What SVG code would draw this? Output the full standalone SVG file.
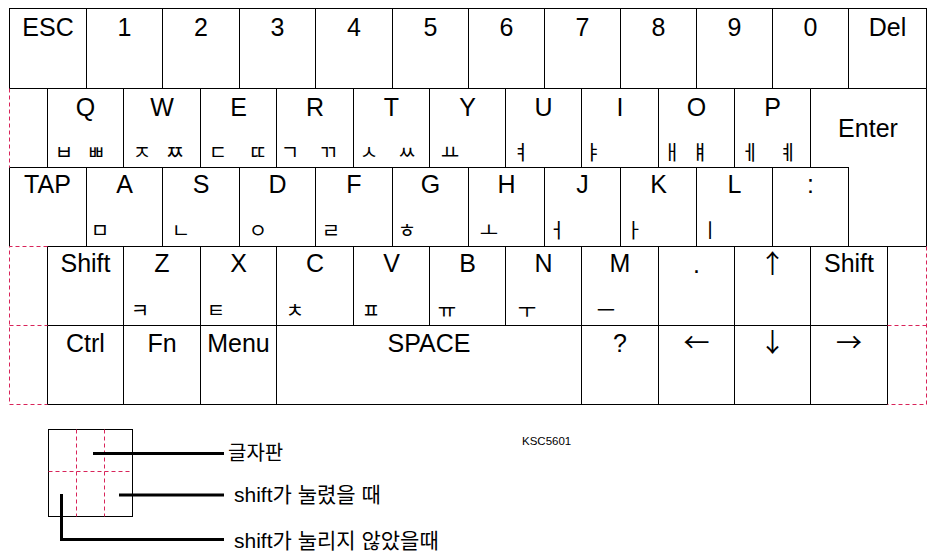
<svg xmlns="http://www.w3.org/2000/svg" width="937" height="559" viewBox="0 0 937 559">
<style>
.k{fill:#fff;stroke:#000;stroke-width:1}
.l{font-family:"Liberation Sans",Arial,sans-serif;font-size:25px;text-anchor:middle;fill:#000}
.a{font-family:"Noto Sans CJK KR","Noto Sans CJK SC",sans-serif;font-size:26px;text-anchor:middle;fill:#000}
.j{font-family:"Noto Sans CJK KR","Noto Sans CJK SC",sans-serif;font-size:20px;text-anchor:middle;fill:#000}
.d{stroke:#d8245a;stroke-width:1;stroke-dasharray:4 3;fill:none}
.c{stroke:#000;stroke-width:3;fill:none}
.t{font-family:"Liberation Sans","Noto Sans CJK KR",sans-serif;font-size:20px;fill:#000}
.t2{font-family:"Liberation Sans","Noto Sans CJK KR",sans-serif;font-size:21px;fill:#000}
.s{font-family:"Liberation Sans",Arial,sans-serif;font-size:11.5px;fill:#000}
</style>
<rect width="937" height="559" fill="#fff"/>
<!-- row 1 -->
<g id="key-esc"><rect class="k" x="9.5" y="8.5" width="77" height="80"/><text class="l" x="48" y="36">ESC</text></g>
<g id="key-1"><rect class="k" x="86.5" y="8.5" width="76" height="80"/><text class="l" x="124.5" y="36">1</text></g>
<g id="key-2"><rect class="k" x="162.5" y="8.5" width="77" height="80"/><text class="l" x="201" y="36">2</text></g>
<g id="key-3"><rect class="k" x="239.5" y="8.5" width="76" height="80"/><text class="l" x="277.5" y="36">3</text></g>
<g id="key-4"><rect class="k" x="315.5" y="8.5" width="77" height="80"/><text class="l" x="354" y="36">4</text></g>
<g id="key-5"><rect class="k" x="392.5" y="8.5" width="76" height="80"/><text class="l" x="430.5" y="36">5</text></g>
<g id="key-6"><rect class="k" x="468.5" y="8.5" width="76" height="80"/><text class="l" x="506.5" y="36">6</text></g>
<g id="key-7"><rect class="k" x="544.5" y="8.5" width="76" height="80"/><text class="l" x="582.5" y="36">7</text></g>
<g id="key-8"><rect class="k" x="620.5" y="8.5" width="76" height="80"/><text class="l" x="658.5" y="36">8</text></g>
<g id="key-9"><rect class="k" x="696.5" y="8.5" width="76" height="80"/><text class="l" x="734.5" y="36">9</text></g>
<g id="key-0"><rect class="k" x="772.5" y="8.5" width="76" height="80"/><text class="l" x="810.5" y="36">0</text></g>
<g id="key-del"><rect class="k" x="848.5" y="8.5" width="78" height="80"/><text class="l" x="887.5" y="36">Del</text></g>
<!-- row 2 -->
<g id="key-q"><rect class="k" x="47.5" y="88.5" width="76" height="79"/><text class="l" x="85.5" y="116">Q</text><text class="j" x="64" y="160">ㅂ</text><text class="j" x="96" y="160">ㅃ</text></g>
<g id="key-w"><rect class="k" x="123.5" y="88.5" width="77" height="79"/><text class="l" x="162" y="116">W</text><text class="j" x="142" y="160">ㅈ</text><text class="j" x="175" y="160">ㅉ</text></g>
<g id="key-e"><rect class="k" x="200.5" y="88.5" width="76" height="79"/><text class="l" x="238.5" y="116">E</text><text class="j" x="218" y="160">ㄷ</text><text class="j" x="258" y="160">ㄸ</text></g>
<g id="key-r"><rect class="k" x="276.5" y="88.5" width="77" height="79"/><text class="l" x="315" y="116">R</text><text class="j" x="290" y="160">ㄱ</text><text class="j" x="328" y="160">ㄲ</text></g>
<g id="key-t"><rect class="k" x="353.5" y="88.5" width="76" height="79"/><text class="l" x="391.5" y="116">T</text><text class="j" x="369" y="160">ㅅ</text><text class="j" x="407" y="160">ㅆ</text></g>
<g id="key-y"><rect class="k" x="429.5" y="88.5" width="76" height="79"/><text class="l" x="467.5" y="116">Y</text><text class="j" x="450" y="160">ㅛ</text></g>
<g id="key-u"><rect class="k" x="505.5" y="88.5" width="76" height="79"/><text class="l" x="543.5" y="116">U</text><text class="j" x="521" y="160">ㅕ</text></g>
<g id="key-i"><rect class="k" x="581.5" y="88.5" width="77" height="79"/><text class="l" x="620" y="116">I</text><text class="j" x="593" y="160">ㅑ</text></g>
<g id="key-o"><rect class="k" x="658.5" y="88.5" width="76" height="79"/><text class="l" x="696.5" y="116">O</text><text class="j" x="672" y="160">ㅐ</text><text class="j" x="700" y="160">ㅒ</text></g>
<g id="key-p"><rect class="k" x="734.5" y="88.5" width="76" height="79"/><text class="l" x="772.5" y="116">P</text><text class="j" x="750" y="160">ㅔ</text><text class="j" x="788" y="160">ㅖ</text></g>
<g id="key-enter"><path class="k" d="M810.5,88.5H926.5V246.5H848.5V167.5H810.5Z"/><text class="l" x="868" y="137">Enter</text></g>
<!-- row 3 -->
<g id="key-tap"><path class="k" d="M47.5,246.5H86.5V167.5H9.5V246.5"/><text class="l" x="47.5" y="193">TAP</text></g>
<g id="key-a"><rect class="k" x="86.5" y="167.5" width="76" height="79"/><text class="l" x="124.5" y="193">A</text><text class="j" x="100" y="238">ㅁ</text></g>
<g id="key-s"><rect class="k" x="162.5" y="167.5" width="77" height="79"/><text class="l" x="201" y="193">S</text><text class="j" x="181" y="238">ㄴ</text></g>
<g id="key-d"><rect class="k" x="239.5" y="167.5" width="76" height="79"/><text class="l" x="277.5" y="193">D</text><text class="j" x="258" y="238">ㅇ</text></g>
<g id="key-f"><rect class="k" x="315.5" y="167.5" width="77" height="79"/><text class="l" x="354" y="193">F</text><text class="j" x="331" y="238">ㄹ</text></g>
<g id="key-g"><rect class="k" x="392.5" y="167.5" width="76" height="79"/><text class="l" x="430.5" y="193">G</text><text class="j" x="407" y="238">ㅎ</text></g>
<g id="key-h"><rect class="k" x="468.5" y="167.5" width="76" height="79"/><text class="l" x="506.5" y="193">H</text><text class="j" x="489" y="238">ㅗ</text></g>
<g id="key-j"><rect class="k" x="544.5" y="167.5" width="76" height="79"/><text class="l" x="582.5" y="193">J</text><text class="j" x="557" y="238">ㅓ</text></g>
<g id="key-k"><rect class="k" x="620.5" y="167.5" width="76" height="79"/><text class="l" x="658.5" y="193">K</text><text class="j" x="634" y="238">ㅏ</text></g>
<g id="key-l"><rect class="k" x="696.5" y="167.5" width="76" height="79"/><text class="l" x="734.5" y="193">L</text><text class="j" x="710" y="238">ㅣ</text></g>
<g id="key-colon"><rect class="k" x="772.5" y="167.5" width="76" height="79"/><text class="l" x="810.5" y="193">:</text></g>
<!-- row 4 -->
<g id="key-lshift"><rect class="k" x="47.5" y="246.5" width="76" height="79"/><text class="l" x="85.5" y="272">Shift</text></g>
<g id="key-z"><rect class="k" x="123.5" y="246.5" width="77" height="79"/><text class="l" x="162" y="272">Z</text><text class="j" x="140" y="318">ㅋ</text></g>
<g id="key-x"><rect class="k" x="200.5" y="246.5" width="76" height="79"/><text class="l" x="238.5" y="272">X</text><text class="j" x="216" y="318">ㅌ</text></g>
<g id="key-c"><rect class="k" x="276.5" y="246.5" width="77" height="79"/><text class="l" x="315" y="272">C</text><text class="j" x="295" y="318">ㅊ</text></g>
<g id="key-v"><rect class="k" x="353.5" y="246.5" width="76" height="79"/><text class="l" x="391.5" y="272">V</text><text class="j" x="371" y="318">ㅍ</text></g>
<g id="key-b"><rect class="k" x="429.5" y="246.5" width="76" height="79"/><text class="l" x="467.5" y="272">B</text><text class="j" x="447" y="318">ㅠ</text></g>
<g id="key-n"><rect class="k" x="505.5" y="246.5" width="76" height="79"/><text class="l" x="543.5" y="272">N</text><text class="j" x="527" y="318">ㅜ</text></g>
<g id="key-m"><rect class="k" x="581.5" y="246.5" width="77" height="79"/><text class="l" x="620" y="272">M</text><text class="j" x="606" y="318">ㅡ</text></g>
<g id="key-period"><rect class="k" x="658.5" y="246.5" width="76" height="79"/><text class="l" x="696.5" y="273">.</text></g>
<g id="key-up"><rect class="k" x="734.5" y="246.5" width="76" height="79"/><text class="a" x="772.5" y="273">↑</text></g>
<g id="key-rshift"><rect class="k" x="810.5" y="246.5" width="77" height="79"/><text class="l" x="849" y="272">Shift</text></g>
<!-- row 5 -->
<g id="key-ctrl"><rect class="k" x="47.5" y="325.5" width="76" height="79"/><text class="l" x="85.5" y="352">Ctrl</text></g>
<g id="key-fn"><rect class="k" x="123.5" y="325.5" width="77" height="79"/><text class="l" x="162" y="352">Fn</text></g>
<g id="key-menu"><rect class="k" x="200.5" y="325.5" width="76" height="79"/><text class="l" x="238.5" y="352">Menu</text></g>
<g id="key-space"><rect class="k" x="276.5" y="325.5" width="305" height="79"/><text class="l" x="429" y="352">SPACE</text></g>
<g id="key-question"><rect class="k" x="581.5" y="325.5" width="77" height="79"/><text class="l" x="620" y="352">?</text></g>
<g id="key-left"><rect class="k" x="658.5" y="325.5" width="76" height="79"/><text class="a" x="696.5" y="352">←</text></g>
<g id="key-down"><rect class="k" x="734.5" y="325.5" width="76" height="79"/><text class="a" x="772.5" y="352">↓</text></g>
<g id="key-right"><rect class="k" x="810.5" y="325.5" width="77" height="79"/><text class="a" x="849" y="352">→</text></g>
<!-- dashed placeholders -->
<g id="blank-areas">
<path class="d" d="M9.5,88.5V167.5"/>
<path class="d" d="M47.5,246.5H9.5V404.5H47.5"/>
<path class="d" d="M9.5,325.5H47.5"/>
<path class="d" d="M887.5,325.5H926.5"/>
<path class="d" d="M926.5,246.5V404.5H887.5"/>
</g>
<!-- legend -->
<g id="legend-box">
<rect class="k" x="48.5" y="429.5" width="84" height="87"/>
<path class="d" d="M76.5,429.5V516.5M104.5,429.5V516.5M48.5,471.5H132.5"/>
</g>
<g id="connectors">
<path class="c" d="M93,453.5H224"/>
<path class="c" d="M119,495H224"/>
<path class="c" d="M61.5,494V539.5H224"/>
</g>
<g id="label-1"><text class="t" x="228" y="460">글자판</text></g>
<g id="label-2"><text class="t2" x="234" y="502">shift가 눌렸을 때</text></g>
<g id="label-3"><text class="t2" x="234" y="548">shift가 눌리지 않았을때</text></g>
<g id="label-ksc"><text class="s" x="522" y="445">KSC5601</text></g>
</svg>
